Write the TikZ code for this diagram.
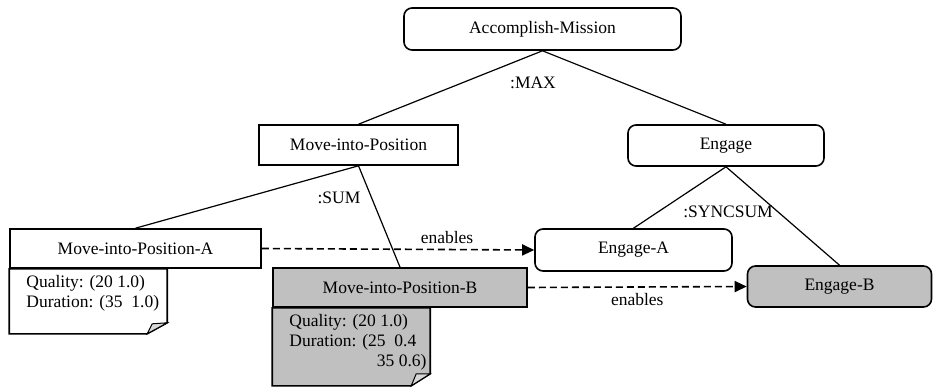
\documentclass[tikz,border=0pt]{standalone}
\usepackage{fontspec}
\setmainfont{Liberation Serif}
\newfontfamily\timesfont{Liberation Serif}
\usetikzlibrary{arrows.meta}
\definecolor{taskgray}{RGB}{192,192,192}
\definecolor{foldgray}{RGB}{216,216,216}
\begin{document}
\begin{tikzpicture}[x=1pt, y=-1pt, font=\timesfont\fontsize{17.5}{20}\selectfont,
  box/.style={draw, line width=1.6pt, fill=white, inner sep=0pt, minimum height=40pt},
  rbox/.style={box, rounded corners=8pt},
  done/.style={fill=taskgray},
  tree/.style={line width=1.2pt},
  enab/.style={line width=1.6pt, dash pattern=on 7pt off 4pt, -{Triangle[length=12pt,width=11pt]}},
  notebox/.style={draw, line width=1.6pt},
  notetext/.style={align=left, inner xsep=0pt, inner ysep=0pt}]
\useasboundingbox (0,0) rectangle (933,388);
% tasks
\node[rbox, minimum width=277, minimum height=42] (acc) at (542.5,29) {Accomplish-Mission};
\node[box, minimum width=199] (mip) at (358.5,145) {Move-into-Position};
\node[rbox, minimum width=196, minimum height=41] (eng) at (726,145.5) {Engage};
\node[box, minimum width=251, minimum height=39] (mipA) at (135.5,248.5) {Move-into-Position-A};
\node[box, done, minimum width=254, minimum height=39] (mipB) at (400,287.5) {Move-into-Position-B};
\node[rbox, minimum width=197, minimum height=42] (engA) at (633.5,250) {Engage-A};
\node[rbox, done, minimum width=184, minimum height=41] (engB) at (839.5,286.5) {Engage-B};
% tree edges
\draw[tree] (acc.south) -- (mip.north);
\draw[tree] (acc.south) -- (eng.north);
\draw[tree] (mip.south) -- (mipA.north);
\draw[tree] (mip.south) -- (mipB.north);
\draw[tree] (eng.south) -- (engA.north);
\draw[tree] (eng.south) -- (engB.north);
\node (qmax) at (533,83) {:MAX};
\node (qsum) at (339,198) {:SUM};
\node (qsync) at (728,212) {:SYNCSUM};
% enables
\draw[enab] (mipA.east) -- (engA.west) node[pos=0.68, above=2pt] (enA) {enables};
\draw[enab] (mipB.east) -- (engB.west) node[midway, below=2pt] (enB) {enables};
% notes
\draw[notebox, fill=white] (mipA.south west) -- ++(158,0) -- ++(0,54) -- ++(-20,11) -- ++(-138,0) -- cycle;
\draw[line width=1pt, fill=foldgray] ([shift={(138,65)}]mipA.south west) -- ++(5,-10) -- ++(15,-1) -- cycle;
\node[notetext, anchor=north west] (noteA) at ([shift={(17,6)}]mipA.south west)
  {Quality: (20 1.0)\\Duration: (35\ \ 1.0)};
\draw[notebox, fill=taskgray] (mipB.south west) -- ++(158,0) -- ++(0,66) -- ++(-19,12) -- ++(-139,0) -- cycle;
\draw[line width=1pt, fill=foldgray] ([shift={(139,78)}]mipB.south west) -- ++(5,-12) -- ++(14,0) -- cycle;
\node[notetext, anchor=north west] (noteB) at ([shift={(17,6)}]mipB.south west)
  {Quality: (20 1.0)\\Duration: (25\ \ 0.4\\\hphantom{Duration: (2}35 0.6)};
\end{tikzpicture}
\end{document}
